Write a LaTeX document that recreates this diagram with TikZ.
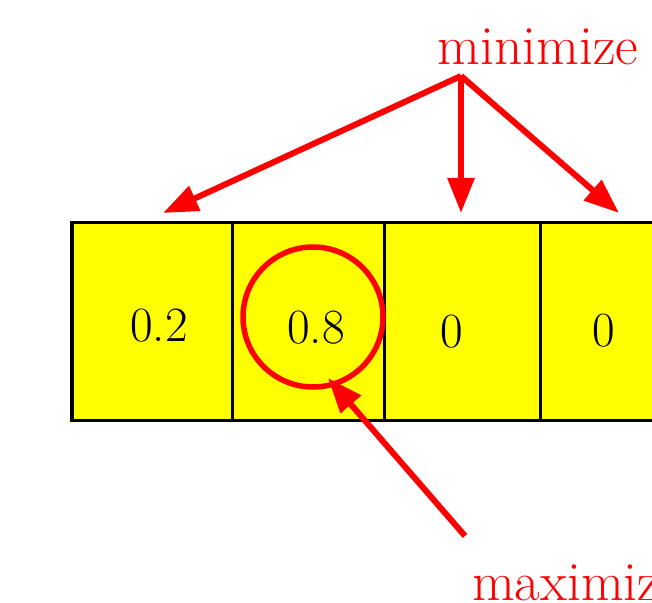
\documentclass[tikz,border=0pt]{standalone}
\usepackage{tikz}
\usetikzlibrary{arrows.meta}
\definecolor{cellyellow}{RGB}{255,255,0}
\definecolor{markred}{RGB}{255,0,0}

\begin{document}
\begin{tikzpicture}[x=0.2mm,y=-0.2mm,
      cell/.style={rectangle,draw=black,fill=cellyellow,line width=0.6mm,
                   minimum height=39.4mm,inner sep=0pt},
      val/.style={font=\fontsize{28}{34}\selectfont},
      tag/.style={text=markred,font=\fontsize{31.5}{38}\selectfont},
      redarrow/.style={draw=markred,line width=1.2mm,
                       -{Triangle[length=7mm,width=5.2mm]}}]
    \clip (0,0) rectangle (652,603);
    % the four cells
    \node[cell,minimum width=32mm]   (c1) at (152,321.5) {};
    \node[cell,minimum width=30.4mm] (c2) at (308,321.5) {};
    \node[cell,minimum width=31.2mm] (c3) at (462,321.5) {};
    \node[cell,minimum width=31mm]   (c4) at (617.5,321.5) {};
    \node[val] (v1) at (159,326) {0.2};
    \node[val] (v2) at (316,327.5) {0.8};
    \node[val] (v3) at (452,332) {0};
    \node[val] (v4) at (604,331) {0};
    \node[circle,draw=markred,line width=1.1mm,minimum size=28mm] (ring) at (313,317) {};
    % labels
    \node[tag,anchor=base] (mini) at (538,65) {minimize};
    \node[tag,anchor=base west] (maxi) at (466,600) {maximize};
    \coordinate (fork) at (461,76);
    \coordinate (t1) at (163,213);
    \coordinate (t3) at (461,213);
    \coordinate (t4) at (619,213);
    \coordinate (maxtail) at (465,536);
    \coordinate (maxtip) at (328,378);
    \draw[redarrow] (fork) -- (t1);
    \draw[redarrow] (fork) -- (t3);
    \draw[redarrow] (fork) -- (t4);
    \draw[redarrow] (maxtail) -- (maxtip);
\end{tikzpicture}
\end{document}
